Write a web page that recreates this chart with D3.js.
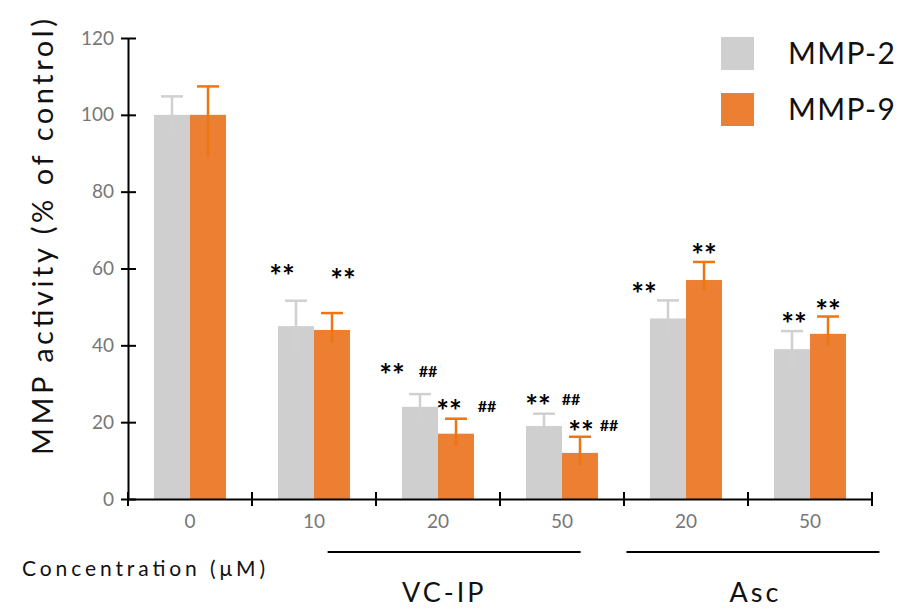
<!DOCTYPE html>
<html>
<head>
<meta charset="utf-8">
<title>MMP activity</title>
<style>
  body { margin: 0; background: #fff; }
  text { font-family: Lato, "Open Sans", sans-serif; }
</style>
</head>
<body>
<svg width="917" height="609"></svg>
<script src="https://cdn.jsdelivr.net/npm/d3@7"></script>
<script>

    // data
    var doses = ["0", "10", "20", "50", "20", "50"];
    var mmp2 = [100, 45, 24, 19, 47, 39];
    var mmp2Err = [4.8, 6.6, 3.3, 3.2, 4.7, 4.7];
    var mmp9 = [100, 44, 17, 12, 57, 43];
    var mmp9ErrUp = [7.4, 4.4, 3.9, 4.2, 4.7, 4.5];
    var mmp9ErrDown = [10.9, 3.4, 3.3, 3.3, 2.6, 3.1];
    var seriesNames = ["MMP-2", "MMP-9"];
    var yTicks = [0, 20, 40, 60, 80, 100, 120];

    // significance marks: group, series, text, height (in %), shift (px)
    var marks = [
        [1, 0, "**", 59.9, -14], [1, 1, "**", 58.9, 11],
        [2, 0, "**", 34.1, -28], [2, 0, "##", 33.2, 8],
        [2, 1, "**", 24.7, -7], [2, 1, "##", 24.2, 31],
        [3, 0, "**", 26.0, -6], [3, 0, "##", 26.0, 27],
        [3, 1, "**", 19.3, 1], [3, 1, "##", 19.3, 29],
        [4, 0, "**", 55.2, -24], [4, 1, "**", 65.4, 0],
        [5, 0, "**", 47.5, 2], [5, 1, "**", 50.8, 0]
    ];

    // treatment brackets under the axis, in group units: start, end, label centre, label
    var treatments = [[1.61, 3.65, 2.55, "VC-IP"], [4.02, 6.06, 5.06, "Asc"]];

    var barColor = ["#d0cfd0", "#ed7f33"];
    var errColor = ["#d0d0d0", "#ee7510"];

    var svg = d3.select("svg"),
        margin = { top: 38, left: 128 },
        width = 744,
        height = 461,
        g = svg.append("g").attr("transform", "translate(" + margin.left + "," + margin.top + ")");

    var x = d3.scaleBand()
        .domain(d3.range(doses.length))
        .range([0, width]);

    // continuous position in group units (for brackets below the axis)
    var xg = d3.scaleLinear().domain([0, doses.length]).range([0, width]);

    var barW = 36;
    var xs = d3.scaleBand()
        .domain([0, 1])
        .range([x.bandwidth() / 2 - barW, x.bandwidth() / 2 + barW]);

    var y = d3.scaleLinear()
        .domain([0, 120])
        .range([height, 0]);

    var rows = [];
    doses.forEach(function (d, i) {
        rows.push({ i: i, s: 0, v: mmp2[i], up: mmp2Err[i], down: mmp2Err[i] });
        rows.push({ i: i, s: 1, v: mmp9[i], up: mmp9ErrUp[i], down: mmp9ErrDown[i] });
    });

    function cx(d) { return x(d.i) + xs(d.s) + xs.bandwidth() / 2; }

    // bars
    g.selectAll(".bar")
        .data(rows)
        .enter().append("rect")
        .attr("class", "bar")
        .attr("x", function (d) { return x(d.i) + xs(d.s); })
        .attr("width", xs.bandwidth())
        .attr("y", function (d) { return y(d.v); })
        .attr("height", function (d) { return y(0) - y(d.v); })
        .attr("fill", function (d) { return barColor[d.s]; });

    // error bars
    var eb = g.selectAll(".err")
        .data(rows)
        .enter().append("g")
        .attr("class", "err")
        .attr("stroke", function (d) { return errColor[d.s]; })
        .attr("stroke-width", 2.5);
    eb.append("line")
        .attr("x1", cx).attr("x2", cx)
        .attr("y1", function (d) { return y(d.v - d.down); })
        .attr("y2", function (d) { return y(d.v + d.up); });
    eb.append("line")
        .attr("x1", function (d) { return cx(d) - 11; })
        .attr("x2", function (d) { return cx(d) + 11; })
        .attr("y1", function (d) { return y(d.v + d.up); })
        .attr("y2", function (d) { return y(d.v + d.up); });

    // axes
    var yAxis = g.append("g")
        .call(d3.axisLeft(y).tickValues(yTicks).tickSize(7).tickSizeOuter(0).tickPadding(7));
    yAxis.select(".domain").attr("stroke", "#000").attr("stroke-width", 2);
    yAxis.selectAll(".tick line").attr("stroke", "#000").attr("stroke-width", 2).attr("x2", 8).attr("x1", -7);
    yAxis.selectAll(".tick text")
        .attr("fill", "#777").attr("font-size", 19).attr("font-family", "Lato");

    var xAxis = g.append("g")
        .attr("transform", "translate(0," + height + ")")
        .call(d3.axisBottom(x).tickSize(0).tickFormat(function (i) { return doses[i]; }).tickPadding(16));
    xAxis.select(".domain").attr("stroke", "#000").attr("stroke-width", 2);
    xAxis.selectAll(".tick text")
        .attr("fill", "#777").attr("font-size", 19).attr("font-family", "Lato");

    // ticks between categories
    g.append("g").selectAll("line")
        .data(d3.range(doses.length + 1))
        .enter().append("line")
        .attr("x1", function (k) { return xg(k); })
        .attr("x2", function (k) { return xg(k); })
        .attr("y1", height - 7)
        .attr("y2", height + 7)
        .attr("stroke", "#000")
        .attr("stroke-width", 2);

    // significance text
    g.selectAll(".mark")
        .data(marks)
        .enter().append("text")
        .attr("class", "mark")
        .attr("x", function (m) { return cx({ i: m[0], s: m[1] }) + m[4]; })
        .attr("y", function (m) {
            return m[2] === "**" ? y(m[3]) + 18 : y(m[3]) + 6;
        })
        .attr("text-anchor", "middle")
        .attr("font-family", function (m) { return m[2] === "**" ? "DejaVu Sans" : "Liberation Sans"; })
        .attr("font-weight", "bold")
        .attr("font-size", function (m) { return m[2] === "**" ? 30 : 16; })
        .attr("fill", "#000")
        .text(function (m) { return m[2]; });

    // y title
    svg.append("text")
        .attr("transform", "translate(53,237) rotate(-90)")
        .attr("text-anchor", "middle")
        .attr("font-size", 29)
        .attr("fill", "#111")
        .attr("textLength", 436)
        .attr("lengthAdjust", "spacing")
        .text("MMP activity (% of control)");

    // legend
    var leg = svg.append("g").selectAll("g")
        .data(seriesNames)
        .enter().append("g")
        .attr("transform", function (d, i) { return "translate(721," + (37 + i * 56) + ")"; });
    leg.append("rect")
        .attr("width", 33).attr("height", 33)
        .attr("fill", function (d, i) { return barColor[i]; });
    leg.append("text")
        .attr("x", 67).attr("y", 27)
        .attr("font-size", 30)
        .attr("fill", "#111")
        .attr("textLength", 107)
        .attr("lengthAdjust", "spacing")
        .text(function (d) { return d; });

    // concentration label and treatment brackets
    svg.append("text")
        .attr("x", 22).attr("y", 576)
        .attr("font-size", 21)
        .attr("fill", "#111")
        .attr("textLength", 243)
        .attr("lengthAdjust", "spacing")
        .text("Concentration (\u03bcM)");

    var tr = g.selectAll(".treat")
        .data(treatments)
        .enter().append("g")
        .attr("class", "treat");
    tr.append("line")
        .attr("x1", function (t) { return xg(t[0]); })
        .attr("x2", function (t) { return xg(t[1]); })
        .attr("y1", height + 53)
        .attr("y2", height + 53)
        .attr("stroke", "#000")
        .attr("stroke-width", 2);
    tr.append("text")
        .attr("x", function (t) { return xg(t[2]); })
        .attr("y", height + 103)
        .attr("text-anchor", "middle")
        .attr("font-size", 27)
        .attr("letter-spacing", 3)
        .attr("fill", "#111")
        .text(function (t) { return t[3]; });

</script>
</body>
</html>
